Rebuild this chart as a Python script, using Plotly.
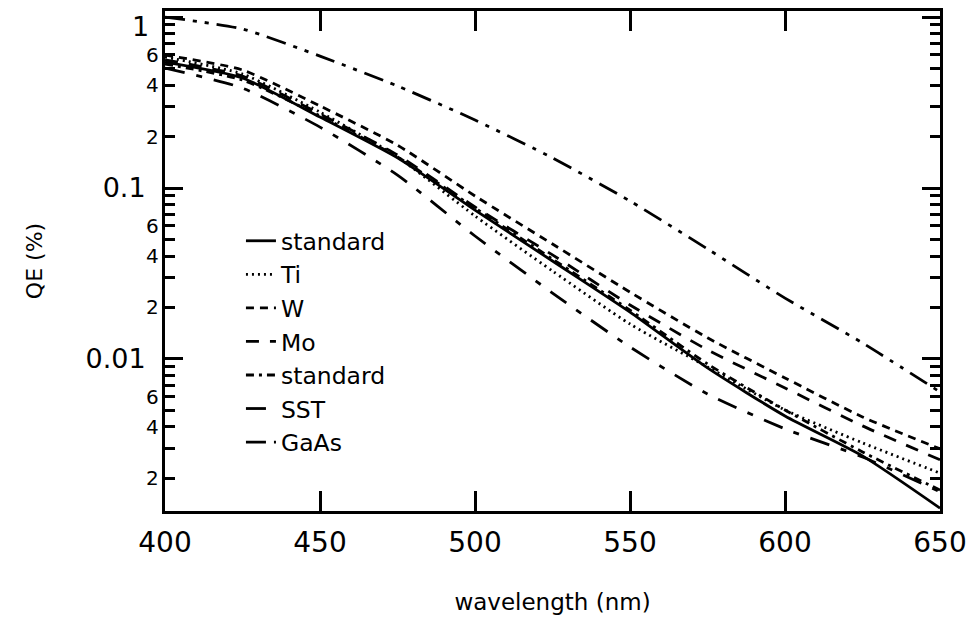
import math
import plotly.graph_objects as go

wavelength = [400, 425, 450, 475, 500, 525, 550, 575, 600, 625, 650]

qe_standard = [0.545, 0.440, 0.260, 0.150, 0.0743, 0.0374, 0.0188, 0.00886, 0.00464, 0.00271, 0.00134]
qe_ti = [0.584, 0.464, 0.278, 0.152, 0.0686, 0.0327, 0.0160, 0.00898, 0.00503, 0.00323, 0.00215]
qe_w = [0.600, 0.490, 0.302, 0.178, 0.0898, 0.0470, 0.0246, 0.0133, 0.00774, 0.00458, 0.00298]
qe_mo = [0.561, 0.452, 0.271, 0.156, 0.0774, 0.0406, 0.0207, 0.0113, 0.00677, 0.00406, 0.00257]
qe_standard2 = [0.531, 0.428, 0.264, 0.152, 0.0764, 0.0384, 0.0193, 0.00935, 0.00503, 0.00286, 0.00171]
qe_sst = [0.503, 0.384, 0.227, 0.119, 0.0524, 0.0243, 0.01175, 0.00624, 0.00390, 0.00267, 0.00167]
qe_gaas = [1.0, 0.851, 0.591, 0.395, 0.250, 0.150, 0.0839, 0.0440, 0.0227, 0.01241, 0.00641]

series_names = ["standard", "Ti", "W", "Mo", "standard", "SST", "GaAs"]
series_values = [qe_standard, qe_ti, qe_w, qe_mo, qe_standard2, qe_sst, qe_gaas]
series_dash = ["solid", "2px,4px", "8px,6px", "13px,11px", "8px,5px,3px,5px",
               "20px,12px,6px,12px", "20px,8px,4px,8px,4px,8px"]

x_ticks = [400, 450, 500, 550, 600, 650]
y_major = [0.01, 0.1, 1]
y_major_text = ["0.01", "0.1", ""]
y_top_value = 1
y_top_text = "1"
y_minor = [m * 10.0 ** e for e in (-3, -2, -1) for m in range(2, 10)]
y_minor_labelled = [0.002, 0.004, 0.006, 0.02, 0.04, 0.06, 0.2, 0.4, 0.6]
y_minor_text = ["2", "4", "6", "2", "4", "6", "2", "4", "6"]

FONT = "DejaVu Sans"

fig = go.Figure()
for name, vals, dash in zip(series_names, series_values, series_dash):
    fig.add_trace(go.Scatter(
        x=wavelength, y=vals, name=name, mode="lines",
        line=dict(color="black", width=2.8, dash=dash, shape="spline", smoothing=0.6),
    ))

annotations = []
for v, t in zip(y_minor_labelled, y_minor_text):
    annotations.append(dict(
        xref="paper", x=0, xanchor="right", xshift=-4,
        yref="y", y=math.log10(v), yanchor="middle",
        text=t, showarrow=False, font=dict(family=FONT, size=20, color="black"),
    ))
# the top decade label, kept just inside the page
annotations.append(dict(
    xref="paper", x=0, xanchor="right", xshift=-14,
    yref="y", y=math.log10(y_top_value), yanchor="top", yshift=8,
    text=y_top_text, showarrow=False, font=dict(family=FONT, size=27, color="black"),
))

# page body has an 8px default margin; size the figure so the page fits the window
fig.update_layout(
    width=963, height=607,
    margin=dict(l=157, r=31, t=3, b=104, autoexpand=False),
    paper_bgcolor="white", plot_bgcolor="white",
    font=dict(family=FONT, color="black"),
    showlegend=True,
    legend=dict(
        x=0.098, y=0.584, xanchor="left", yanchor="top",
        bgcolor="rgba(0,0,0,0)", font=dict(family=FONT, size=23.5, color="black"),
        tracegroupgap=0,
    ),
    annotations=annotations,
)

fig.update_xaxes(
    range=[400, 650], tickvals=x_ticks, ticktext=[str(v) for v in x_ticks],
    showline=True, linewidth=3, linecolor="black", mirror="allticks",
    ticks="inside", ticklen=20, tickwidth=2.5, tickcolor="black",
    showgrid=False, zeroline=False, automargin=False,
    ticklabelstandoff=4, ticklabeloverflow="allow",
    tickfont=dict(family=FONT, size=28, color="black"),
    title=dict(text="wavelength (nm)", font=dict(family=FONT, size=23, color="black"), standoff=41),
)

fig.update_yaxes(
    type="log", range=[math.log10(0.00129), math.log10(1.085)],
    tickvals=y_major, ticktext=y_major_text,
    showline=True, linewidth=3, linecolor="black", mirror="allticks",
    ticks="inside", ticklen=18, tickwidth=2.5, tickcolor="black",
    minor=dict(tickvals=y_minor, ticks="inside", ticklen=10, tickwidth=2.5, tickcolor="black", showgrid=False),
    showgrid=False, zeroline=False, automargin=False,
    ticklabelstandoff=11, ticklabeloverflow="allow",
    tickfont=dict(family=FONT, size=27, color="black"),
    title=dict(text="QE (%)", font=dict(family=FONT, size=22, color="black"), standoff=37),
)

fig.write_html("out.html")
